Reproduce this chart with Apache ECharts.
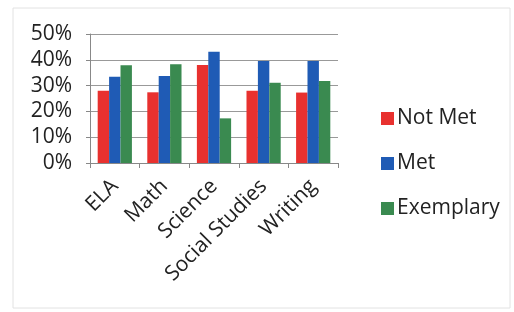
<!DOCTYPE html>
<html>
<head>
<meta charset="utf-8">
<script src="https://cdn.jsdelivr.net/npm/echarts@6/dist/echarts.min.js"></script>
<style>
  html, body { margin: 0; padding: 0; background: #fff; }
  #chart { width: 514px; height: 312px; }
</style>
</head>
<body>
<div id="chart"></div>
<script>
var categories = ["ELA", "Math", "Science", "Social Studies", "Writing"];
var notMet = [28, 27.4, 38, 28, 27.3];
var met = [33.4, 33.7, 43.1, 39.5, 39.5];
var exemplary = [37.9, 38.3, 17.3, 31.1, 31.8];
var yTicks = [0, 10, 20, 30, 40, 50];

var font = "Open Sans";
var myChart = echarts.init(document.getElementById("chart"));

function bar(name, data, color) {
  return {
    name: name,
    type: "bar",
    data: data,
    barGap: "0%",
    barCategoryGap: "31%",
    itemStyle: { color: color }
  };
}

myChart.setOption({
  animation: false,
  graphic: [
    {
      type: "rect",
      shape: { x: 13, y: 8, width: 497, height: 300 },
      style: { fill: "none", stroke: "#e2e2e2", lineWidth: 1 }
    }
  ],
  grid: { left: 90, right: 176, top: 34, bottom: 149 },
  legend: {
    orient: "vertical",
    left: 376,
    top: 103,
    itemWidth: 13,
    itemHeight: 13,
    itemGap: 24,
    icon: "rect",
    textStyle: { fontFamily: font, fontSize: 21, color: "#222", padding: [0, 0, 0, -2] },
    data: ["Not Met", "Met", "Exemplary"]
  },
  xAxis: {
    type: "category",
    data: categories,
    axisLine: { lineStyle: { color: "#888" } },
    axisTick: { show: true, length: 5, lineStyle: { color: "#888" } },
    axisLabel: {
      rotate: 45,
      interval: 0,
      margin: 20,
      fontFamily: font,
      fontSize: 21,
      color: "#222"
    }
  },
  yAxis: {
    type: "value",
    min: 0,
    max: 50,
    interval: 10,
    axisLine: { show: true, lineStyle: { color: "#888" } },
    axisTick: { show: true, length: 4, lineStyle: { color: "#888" } },
    splitLine: { show: true, lineStyle: { color: "#999" } },
    axisLabel: {
      margin: 18,
      fontFamily: font,
      fontSize: 21,
      color: "#222",
      formatter: function (v) {
        return yTicks.indexOf(v) >= 0 ? v + "%" : "";
      }
    }
  },
  series: [
    bar("Not Met", notMet, "#e8312f"),
    bar("Met", met, "#1f5bb5"),
    bar("Exemplary", exemplary, "#3a8a50")
  ]
});
</script>
</body>
</html>
